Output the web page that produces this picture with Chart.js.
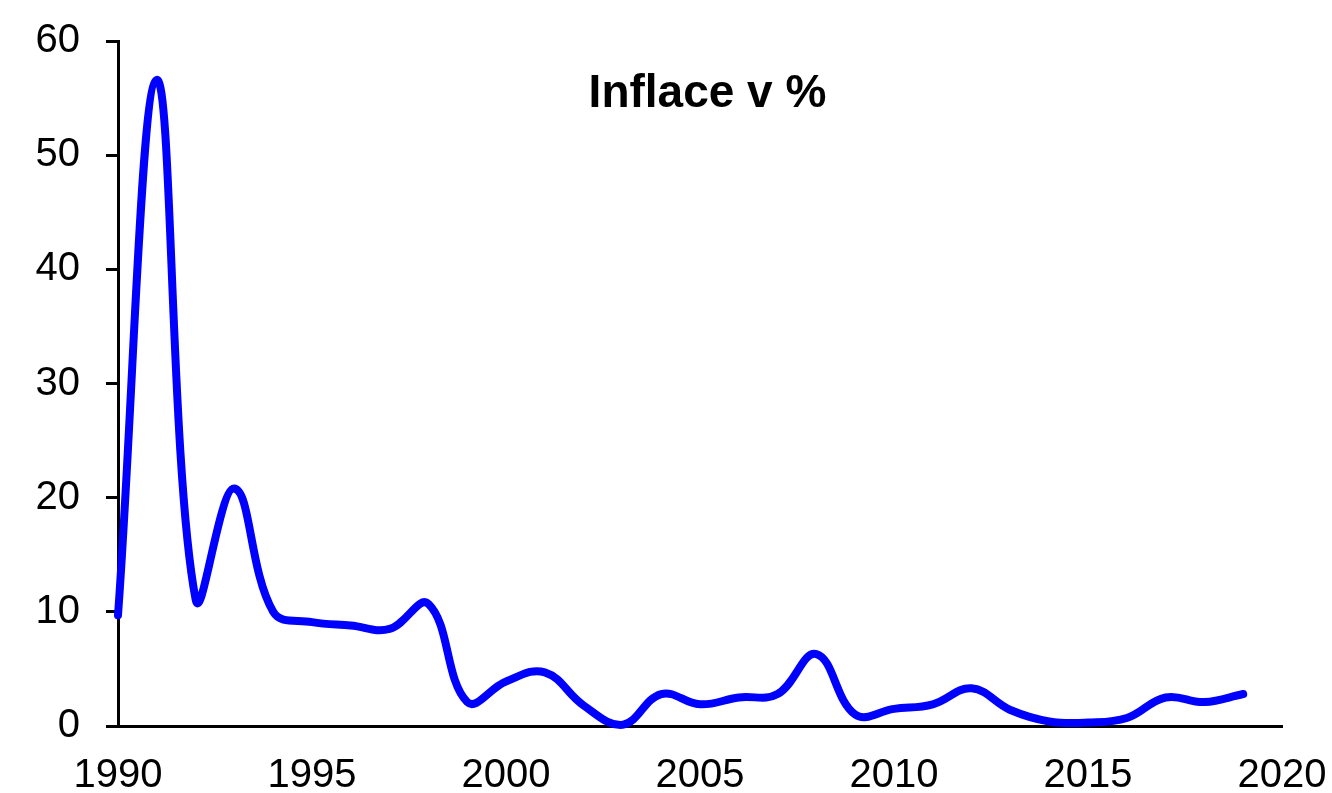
<!DOCTYPE html>
<html>
<head>
<meta charset="utf-8">
<script src="https://cdn.jsdelivr.net/npm/chart.js@4.4.1/dist/chart.umd.min.js"></script>
<style>
  html, body { margin: 0; padding: 0; background: #ffffff; }
  #wrap { width: 1332px; height: 793px; }
</style>
</head>
<body>
<div id="wrap"><canvas id="c" width="1332" height="793"></canvas></div>
<script>
const chartTitle = "Inflace v %";
const years = [1990,1991,1992,1993,1994,1995,1996,1997,1998,1999,2000,2001,2002,2003,2004,2005,2006,2007,2008,2009,2010,2011,2012,2013,2014,2015,2016,2017,2018,2019];
const inflation = [9.7,56.6,11.1,20.8,10.0,9.1,8.8,8.5,10.7,2.1,3.9,4.7,1.8,0.1,2.8,1.9,2.5,2.8,6.3,1.0,1.5,1.9,3.3,1.4,0.4,0.3,0.7,2.5,2.1,2.8];
const xTicks = [1990,1995,2000,2005,2010,2015,2020];
const yTicks = [0,10,20,30,40,50,60];

const FONT = "'Liberation Sans', Arial, Helvetica, sans-serif";

const titlePlugin = {
  id: 'innerTitle',
  afterDraw(chart) {
    const ctx = chart.ctx;
    ctx.save();
    ctx.font = "bold 46px " + FONT;
    ctx.fillStyle = '#000000';
    ctx.textAlign = 'center';
    ctx.textBaseline = 'alphabetic';
    ctx.fillText(chartTitle, 707.5, 107);
    ctx.restore();
  }
};

function zeroPad(scale) {
  scale.paddingLeft = 0; scale.paddingRight = 0;
  scale.paddingTop = 0; scale.paddingBottom = 0;
}

new Chart(document.getElementById('c'), {
  type: 'line',
  data: {
    datasets: [{
      label: chartTitle,
      data: years.map((y, i) => ({ x: y, y: inflation[i] })),
      borderColor: '#0000FF',
      backgroundColor: '#0000FF',
      borderWidth: 8,
      pointRadius: 0,
      tension: 0.4,
      borderCapStyle: 'round',
      borderJoinStyle: 'round',
      clip: false,
      fill: false
    }]
  },
  options: {
    responsive: false,
    devicePixelRatio: 1,
    animation: false,
    layout: { padding: { left: 0, right: 50, top: 41, bottom: 0 } },
    plugins: {
      legend: { display: false },
      tooltip: { enabled: false },
      title: { display: false }
    },
    scales: {
      x: {
        type: 'linear',
        min: xTicks[0],
        max: xTicks[xTicks.length - 1],
        afterBuildTicks(scale) { scale.ticks = xTicks.map(v => ({ value: v })); },
        afterFit(scale) { scale.height = 67; zeroPad(scale); },
        grid: { display: false },
        border: { display: true, color: '#000000', width: 3 },
        ticks: {
          color: '#000000',
          font: { family: FONT, size: 40 },
          padding: 18,
          maxRotation: 0,
          autoSkip: false,
          callback: v => String(v)
        }
      },
      y: {
        min: yTicks[0],
        max: yTicks[yTicks.length - 1],
        afterBuildTicks(scale) { scale.ticks = yTicks.map(v => ({ value: v })); },
        afterFit(scale) { scale.width = 118; zeroPad(scale); },
        grid: {
          display: true,
          drawOnChartArea: false,
          drawTicks: true,
          tickLength: 12,
          lineWidth: 3,
          color: '#000000'
        },
        border: { display: true, color: '#000000', width: 3 },
        ticks: {
          color: '#000000',
          font: { family: FONT, size: 40 },
          padding: 26,
          callback: v => String(v)
        }
      }
    }
  },
  plugins: [titlePlugin]
});
</script>
</body>
</html>
